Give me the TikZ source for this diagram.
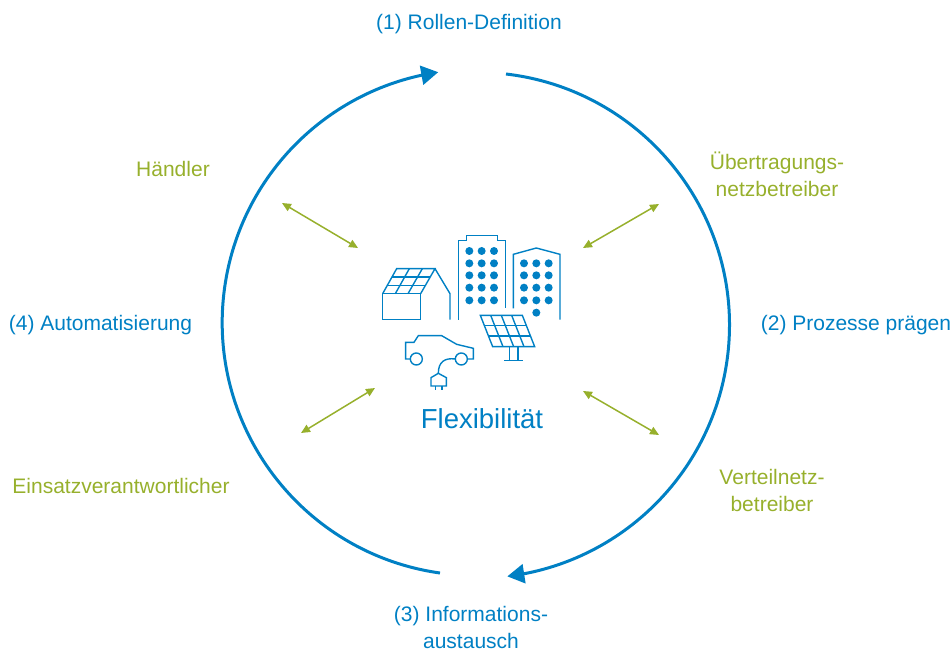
\documentclass[tikz,border=0pt]{standalone}
\usepackage{fontspec}
\setmainfont{Liberation Sans}
\usetikzlibrary{arrows.meta,bending}
\definecolor{flexblue}{HTML}{0080C4}
\definecolor{flexgreen}{HTML}{97B02C}
\tikzset{
  steplabel/.style={text=flexblue, font=\fontsize{21}{27}\selectfont, align=center, inner sep=0pt},
  rolelabel/.style={text=flexgreen, font=\fontsize{21}{27}\selectfont, align=center, inner sep=0pt},
  cyclearc/.style={flexblue, line width=3pt, -{Triangle[length=17pt,width=19pt,flex]}},
  rolearrow/.style={flexgreen, line width=1.5pt, {Triangle[length=9pt,width=8pt]}-{Triangle[length=9pt,width=8pt]}},
  iconline/.style={flexblue, line width=1.4pt, line join=miter}
}
\begin{document}
\begin{tikzpicture}[x=1pt, y=-1pt]
        \useasboundingbox (0,0) rectangle (952,652);
        % Cycle
        \coordinate (centre) at (475.5,324);
        \draw[cyclearc] (506,74) arc[start angle=-83.3, end angle=83, radius=253];
        \draw[cyclearc] (440,573) arc[start angle=98, end angle=261.6, radius=253];
        % Steps
        \node[steplabel] (rollen) at (469,24) {(1) Rollen-Definition};
        \node[steplabel] (prozesse) at (856,325.5) {(2) Prozesse prägen};
        \node[steplabel] (info) at (471,627) {(3) Informations-\\austausch};
        \node[steplabel] (auto) at (100.5,325.5) {(4) Automatisierung};
        % Roles
        \node[rolelabel] (haendler) at (173,169) {Händler};
        \node[rolelabel] (uenb) at (777,174.5) {Übertragungs-\\netzbetreiber};
        \node[rolelabel] (vnb) at (772,490.5) {Verteilnetz-\\betreiber};
        \node[rolelabel] (einsatz) at (121,486) {Einsatzverantwortlicher};
        % Role arrows
        \coordinate (haendlerA) at (282,203);
        \coordinate (haendlerB) at (358,248);
        \coordinate (uenbA) at (659,204);
        \coordinate (uenbB) at (583,248);
        \coordinate (vnbA) at (659,435);
        \coordinate (vnbB) at (583,391);
        \coordinate (einsatzA) at (301,433);
        \coordinate (einsatzB) at (375,388);
        \draw[rolearrow] (haendlerA) -- (haendlerB);
        \draw[rolearrow] (uenbA) -- (uenbB);
        \draw[rolearrow] (vnbA) -- (vnbB);
        \draw[rolearrow] (einsatzA) -- (einsatzB);
        % Centre label
        \node[text=flexblue, font=\fontsize{27.5}{30}\selectfont, inner sep=0pt] (flex) at (482,419) {Flexibilität};
        % Icons
        \begin{scope}[shift={(370,225)}, x=0.3333pt, y=-0.3333pt]
          % House with solar roof
          \draw[iconline] (38,206) rectangle (152,284);
          \draw[iconline] (38,206) -- (80,131) -- (195,131) -- (152,206);
          \draw[iconline] (195,131) -- (240,206) -- (240,284);
          \draw[iconline] (66,156) -- (181,156);
          \draw[iconline] (52,181) -- (167,181);
          \draw[iconline] (118,131) -- (76,206);
          \draw[iconline] (157,131) -- (114,206);
          % Tall building
          \draw[iconline] (266,284) -- (266,47) -- (290,47) -- (290,32) -- (383,32) -- (383,47) -- (406,47) -- (406,250);
          \foreach \x in {298,335,372} {
            \foreach \y in {78,115,151,188,226} {
              \fill[flexblue] (\x,\y) circle (12);
            }
          }
          % Second building
          \draw[iconline] (430,250) -- (430,88) -- (499,69) -- (570,88) -- (570,284);
          \foreach \x in {462,499,536} {
            \foreach \y in {115,151,188,226} {
              \fill[flexblue] (\x,\y) circle (12);
            }
          }
          \fill[flexblue] (499,263) circle (12);
          % Solar panel
          \draw[iconline] (331,271) -- (457,271) -- (494,365) -- (368,365) -- cycle;
          \draw[iconline] (343,302) -- (469,302);
          \draw[iconline] (356,333) -- (482,333);
          \draw[iconline] (362,271) -- (399,365);
          \draw[iconline] (394,271) -- (431,365);
          \draw[iconline] (425,271) -- (462,365);
          \draw[iconline] (418,365) -- (418,407);
          \draw[iconline] (444,365) -- (444,407);
          \draw[iconline] (403,407) -- (459,407);
          % Car
          \draw[iconline] (121,402) -- (107,402) -- (107,352) -- (132,352) -- (145,332) -- (215,332) -- (260,358) -- (310,370) -- (310,402) -- (292,402);
          \draw[iconline] (139,402) circle (18);
          \draw[iconline] (274,402) circle (18);
          % Cable and plug
          \draw[iconline] (256,402) .. controls (225,398) and (205,410) .. (205,445);
          \draw[iconline] (183,483) -- (183,458) -- (205,445) -- (229,458) -- (229,483) -- cycle;
          \draw[iconline] (196,483) -- (196,494);
          \draw[iconline] (216,483) -- (216,494);
        \end{scope}
      \end{tikzpicture}
\end{document}
